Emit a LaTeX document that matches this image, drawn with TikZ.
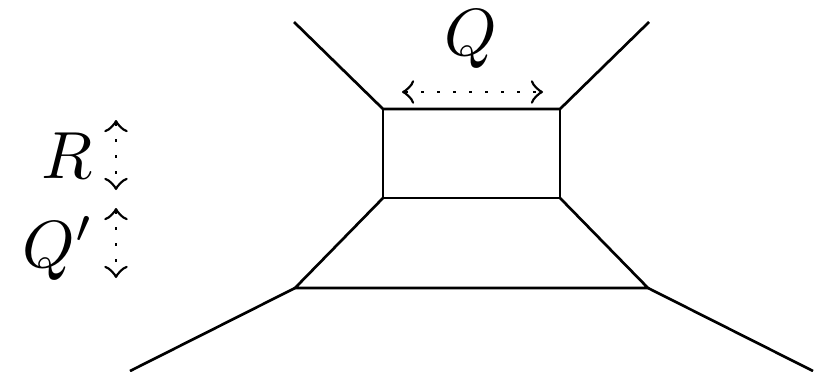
\documentclass[tikz,border=0pt]{standalone}
\begin{document}
\begin{tikzpicture}[x=0.15pt,y=-0.15pt,
  edge/.style={line width=0.4pt, line join=miter},
  dimarrow/.style={dotted, <->},
  lab/.style={inner sep=0pt, anchor=base}]
\useasboundingbox (0,0) rectangle (823,371);
\coordinate (a) at (294,22);
\coordinate (b) at (383,109);
\coordinate (c) at (560,109);
\coordinate (d) at (649,22);
\coordinate (e) at (383,198);
\coordinate (f) at (560,198);
\coordinate (g) at (295,288);
\coordinate (h) at (648,288);
\coordinate (i) at (130,371);
\coordinate (j) at (813,371);
\draw[edge] (a) -- (b) -- (c) -- (d);
\draw[edge] (b) -- (e) -- (f) -- (c);
\draw[edge] (e) -- (g) -- (h) -- (f);
\draw[edge] (i) -- (g);
\draw[edge] (h) -- (j);
\coordinate (q1) at (402,92);
\coordinate (q2) at (543,92);
\draw[dimarrow] (q1) -- (q2);
\coordinate (r1) at (116,120);
\coordinate (r2) at (116,190);
\draw[dimarrow] (r1) -- (r2);
\coordinate (p1) at (116,208);
\coordinate (p2) at (116,278);
\draw[dimarrow] (p1) -- (p2);
\node[lab] (Q) at (471,55) {$Q$};
\node[lab, anchor=base west] (R) at (40,178) {$R$};
\node[lab, anchor=base west] (Qp) at (21,267) {$Q'$};
\end{tikzpicture}
\end{document}
